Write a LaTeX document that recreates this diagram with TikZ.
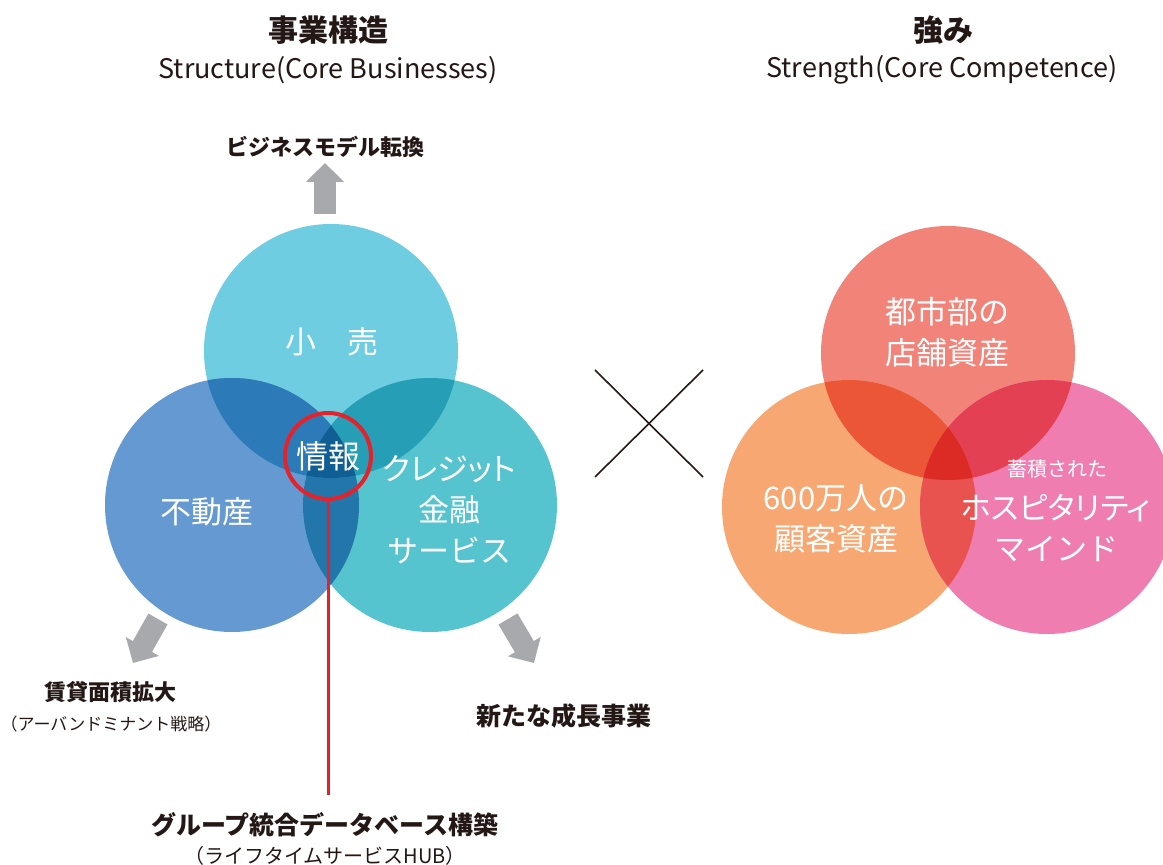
\documentclass[tikz,border=0pt]{standalone}
\usepackage{fontspec}
\setmainfont{Noto Sans CJK JP}
\newfontfamily\kanafont[RawFeature=+palt]{Noto Sans CJK JP}
\usetikzlibrary{arrows.meta}
\definecolor{ink}{RGB}{35,24,21}
\definecolor{arrgray}{RGB}{167,169,172}
\definecolor{hubred}{RGB}{230,33,42}
% left circles
\definecolor{retailc}{RGB}{110,205,224}
\definecolor{estatec}{RGB}{101,153,209}
\definecolor{creditc}{RGB}{85,196,207}
\definecolor{lovTL}{RGB}{44,123,184}
\definecolor{lovTR}{RGB}{37,158,182}
\definecolor{lovLR}{RGB}{34,118,170}
\definecolor{lovAll}{RGB}{15,95,149}
% right circles
\definecolor{storec}{RGB}{242,131,121}
\definecolor{custc}{RGB}{247,168,114}
\definecolor{hospc}{RGB}{240,125,176}
\definecolor{rovTL}{RGB}{234,86,54}
\definecolor{rovTR}{RGB}{228,64,84}
\definecolor{rovLR}{RGB}{232,82,79}
\definecolor{rovAll}{RGB}{220,42,37}
\begin{document}
\begin{tikzpicture}[x=0.5pt,y=-0.5pt,line join=round,
	every node/.style={inner sep=0pt,align=center},
	title/.style={text=ink,font=\bfseries\fontsize{15}{18}\selectfont},
	subtitle/.style={text=ink,font=\fontsize{13.5}{16}\selectfont},
	lbl/.style={text=ink,font=\bfseries\fontsize{11}{13}\selectfont},
	biglbl/.style={text=ink,font=\bfseries\fontsize{12.5}{15}\selectfont},
	smalllbl/.style={text=ink,font=\fontsize{8.5}{11}\selectfont},
	cirtxt/.style={text=white,font=\fontsize{15.5}{20.5}\selectfont},
	fatarr/.style={draw=arrgray,line width=11pt,line cap=butt,-{Triangle[width=18.5pt,length=9.5pt]}},
	hubline/.style={draw=hubred,line width=1.5pt},
	hubcirc/.style={circle,draw=hubred,line width=2pt,minimum size=43pt,text=white,font=\fontsize{16}{18}\selectfont}]
	\useasboundingbox (0,0) rectangle (1163,865);
	\clip (0,0) rectangle (1163,865);
	\def\rr{127}
	
	% Structure (Core Businesses)
	\def\lT{(331,351) circle (\rr)}
	\def\lL{(232,505) circle (\rr)}
	\def\lR{(430,505) circle (\rr)}
	\fill[retailc] \lT;
	\fill[estatec] \lL;
	\fill[creditc] \lR;
	\begin{scope}\clip \lL; \fill[lovLR] \lR;\end{scope}
	\begin{scope}\clip \lT; \fill[lovTL] \lL; \fill[lovTR] \lR; \clip \lL; \fill[lovAll] \lR;\end{scope}
	
	\node[title] (bizTitle) at (328,30) {事業構造};
	\node[subtitle] (bizSub) at (328,70) {Structure(Core Businesses)};
	\node[lbl] (model) at (325,147) {ビジネスモデル転換};
	\node[cirtxt] (retail) at (332,342) {小\hspace{1em}売};
	\node[cirtxt] (estate) at (207,512) {不動産};
	\node[cirtxt] (credit) at (449,510) {{\kanafont クレジット}\\金融\\サービス};
	\node[hubcirc] (info) at (328,456) {情報};
	\node[lbl] (rent) at (111,692) {賃貸面積拡大};
	\node[smalllbl] (rentSub) at (111,724) {（アーバンドミナント戦略）};
	\node[biglbl] (growth) at (564,716) {新たな成長事業};
	\node[biglbl] (db) at (325,825) {グループ統合データベース構築};
	\node[smalllbl,font=\fontsize{10}{12}\selectfont] (dbSub) at (325,856) {（ライフタイムサービスHUB）};
	
	\coordinate (upTail) at (325,214);
	\coordinate (upTip) at (325,163);
	\coordinate (dlTail) at (158,619);
	\coordinate (dlTip) at (133,663);
	\coordinate (drTail) at (508,619);
	\coordinate (drTip) at (534,663);
	\coordinate (hubEnd) at (328,795);
	\draw[fatarr] (upTail) -- (upTip);
	\draw[fatarr] (dlTail) -- (dlTip);
	\draw[fatarr] (drTail) -- (drTip);
	\draw[hubline] (info) -- (hubEnd);
	
	% times sign
	\coordinate (xA) at (595,370);
	\coordinate (xB) at (703,477);
	\coordinate (xC) at (595,477);
	\coordinate (xD) at (703,370);
	\draw[ink,line width=0.8pt] (xA) -- (xB);
	\draw[ink,line width=0.8pt] (xC) -- (xD);
	
	% Strength (Core Competence)
	\def\rT{(948,353) circle (\rr)}
	\def\rL{(849,507) circle (\rr)}
	\def\rR{(1047,507) circle (\rr)}
	\fill[storec] \rT;
	\fill[custc] \rL;
	\fill[hospc] \rR;
	\begin{scope}\clip \rL; \fill[rovLR] \rR;\end{scope}
	\begin{scope}\clip \rT; \fill[rovTL] \rL; \fill[rovTR] \rR; \clip \rL; \fill[rovAll] \rR;\end{scope}
	
	\node[title] (strTitle) at (943,30) {強み};
	\node[subtitle] (strSub) at (942,70) {Strength(Core Competence)};
	\node[cirtxt] (store) at (947,332) {都市部の\\店舗資産};
	\node[cirtxt] (cust) at (836,519) {600万人の\\顧客資産};
	\node[cirtxt,font=\fontsize{10}{12}\selectfont] (accum) at (1057,469) {蓄積された};
	\node[cirtxt] (hosp) at (1056,528) {{\kanafont ホスピタリティ}\\マインド};
\end{tikzpicture}
\end{document}
